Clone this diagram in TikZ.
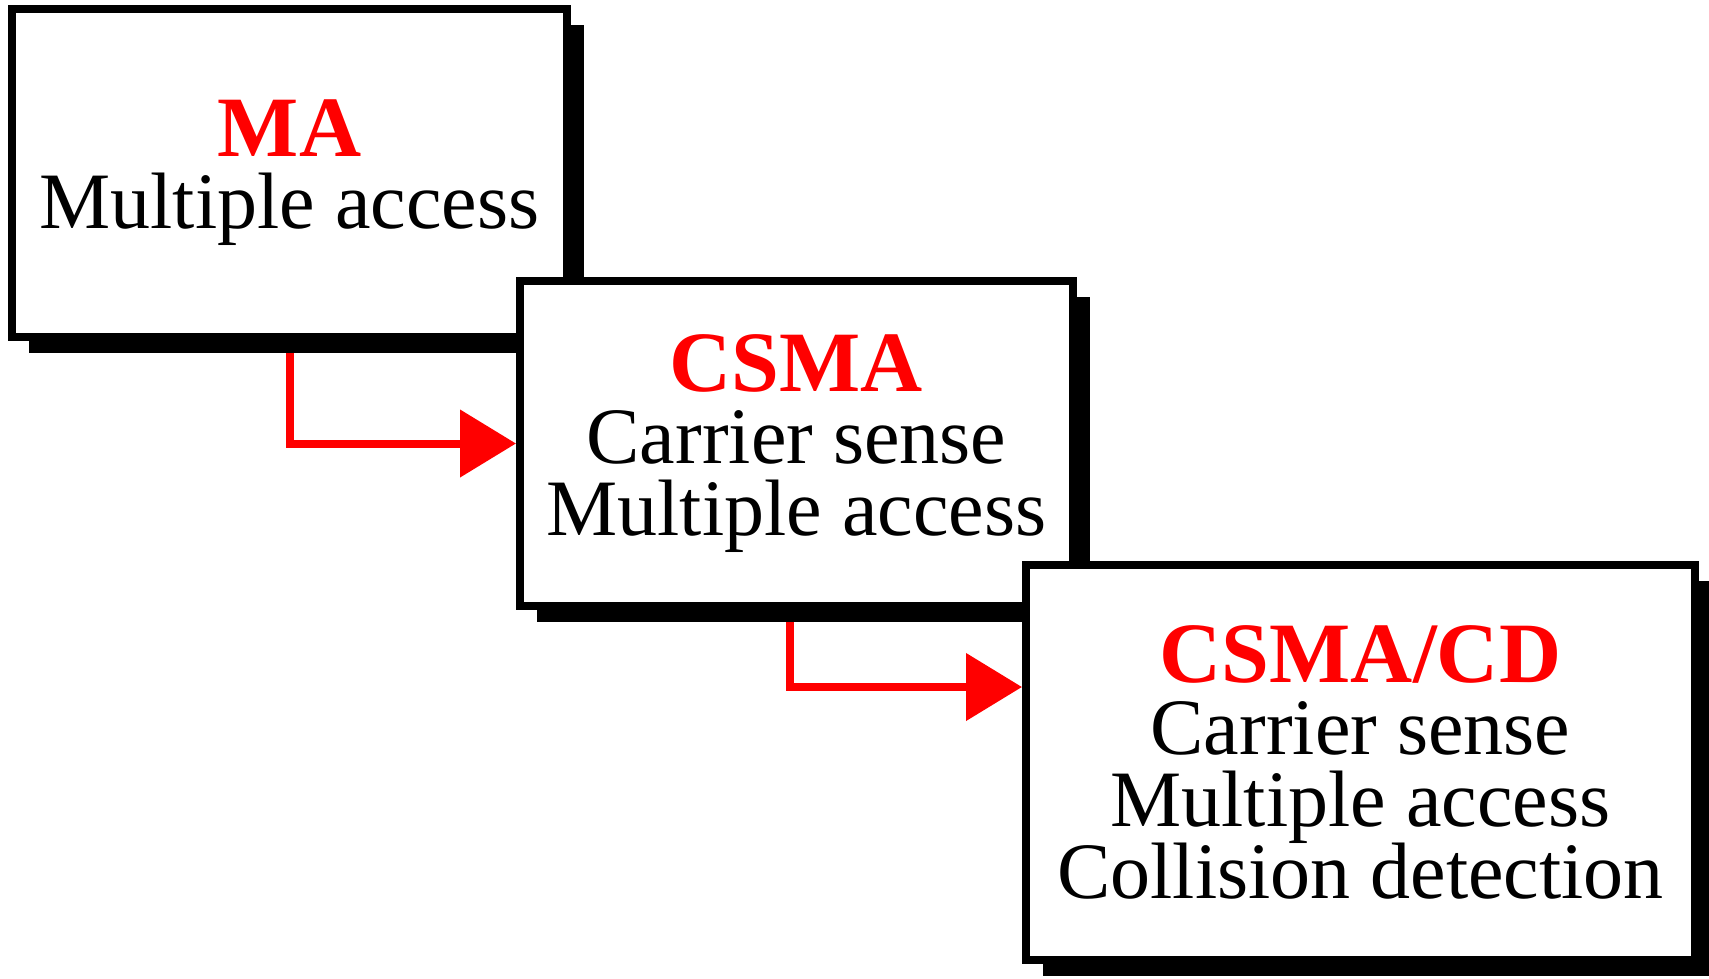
\documentclass[tikz,border=0pt]{standalone}
\usepackage{fontspec}
\setmainfont{Liberation Serif}
\usetikzlibrary{arrows.meta,shadows,backgrounds}
\begin{document}
\begin{tikzpicture}[x=1pt,y=-1pt,
  box/.style={draw=black, line width=8pt, fill=white, align=center,
    inner sep=0pt,
    font={\fontsize{80}{72}\selectfont\lineskiplimit=-100pt},
    general shadow={fill=black, draw=none, shadow xshift=17pt, shadow yshift=-16pt}},
  arr/.style={draw=red, line width=8pt, line cap=butt, line join=miter,
    -{Triangle[length=56pt,width=66pt]}}]
\useasboundingbox (0,0) rectangle (1709,978);
\newcommand{\ttlx}[1]{{\fontsize{86}{72}\selectfont\bfseries\color{red}#1}}
\node[box, minimum width=555pt, minimum height=328pt] (b1) at (289.5,173)
  {\ttlx{MA}\\Multiple access};
\node[box, minimum width=553pt, minimum height=325pt] (b2) at (796.5,443.5)
  {\ttlx{CSMA}\\Carrier sense\\Multiple access};
\node[box, minimum width=669pt, minimum height=395pt] (b3) at (1360.5,762.5)
  {\ttlx{CSMA/CD}\\Carrier sense\\Multiple access\\Collision detection};
\begin{scope}[on background layer]
\fill[white] (0,0) rectangle (1709,978);
\draw[arr] (b1.south) |- (b2.west);
\draw[arr] ([xshift=-7pt]b2.south) |- ([yshift=-126pt]b3.north west);
\end{scope}
\end{tikzpicture}
\end{document}
